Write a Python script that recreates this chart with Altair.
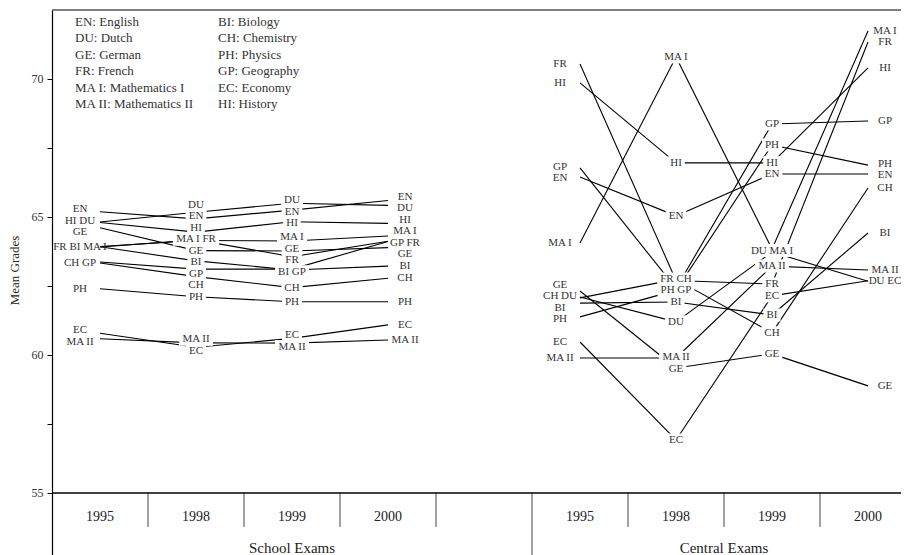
import altair as alt
import pandas as pd

# ---------------- data ----------------
subjects = ["EN", "DU", "GE", "FR", "MA I", "MA II", "BI", "CH", "PH", "GP", "EC", "HI"]
subject_names = ["English", "Dutch", "German", "French", "Mathematics I", "Mathematics II",
                 "Biology", "Chemistry", "Physics", "Geography", "Economy", "History"]
years = ["1995", "1998", "1999", "2000"]
exam_types = ["School Exams", "Central Exams"]

#               EN     DU     GE     FR     MA I   MA II  BI     CH     PH     GP     EC     HI
school_1995 = [65.19, 64.82, 64.61, 63.91, 63.93, 60.59, 63.92, 63.33, 62.40, 63.37, 60.79, 64.80]
school_1998 = [64.93, 65.17, 63.78, 64.17, 64.15, 60.44, 63.41, 62.84, 62.11, 63.11, 60.28, 64.45]
school_1999 = [65.25, 65.50, 63.77, 63.56, 64.13, 60.43, 63.08, 62.44, 61.93, 63.11, 60.60, 64.83]
school_2000 = [65.60, 65.42, 63.89, 64.12, 64.31, 60.54, 63.22, 62.78, 61.93, 64.11, 61.09, 64.77]
central_1995 = [66.45, 62.10, 62.32, 70.54, 64.06, 59.89, 61.88, 62.07, 61.38, 66.78, 60.47, 69.86]
central_1998 = [65.04, 61.20, 59.53, 62.70, 70.80, 59.89, 61.92, 62.74, 62.34, 62.41, 56.92, 66.96]
central_1999 = [66.56, 63.73, 60.04, 62.57, 63.84, 63.22, 61.45, 60.80, 67.61, 68.37, 62.14, 66.96]
central_2000 = [66.56, 62.67, 58.88, 71.34, 71.74, 63.08, 64.42, 66.05, 66.88, 68.48, 62.69, 70.40]

y_ticks = [55, 57.5, 60, 62.5, 65, 67.5, 70]

# ---------------- layout / style ----------------
FONT = "Liberation Serif"
PX = 27.6          # pixels per grade point
COL = 96           # pixels per column
PLOT_W = 849
Y_TOP = 72.5
Y_BOTTOM = 52.39
MERGE = 3.5 / PX
GAP = 11.5 / PX

exam_cols = {"School Exams": [0, 1, 2, 3], "Central Exams": [5, 6, 7, 8]}
exam_data = {"School Exams": [school_1995, school_1998, school_1999, school_2000],
             "Central Exams": [central_1995, central_1998, central_1999, central_2000]}

char_w = {"A": 722, "B": 667, "C": 667, "D": 722, "E": 611, "F": 556, "G": 722, "H": 722,
          "I": 333, "M": 889, "N": 722, "P": 556, "R": 667, "U": 722, " ": 250}


def text_w(s, size=11):
    return sum(char_w.get(c, 600) for c in s) / 1000 * size


def repel(pos, gap):
    pos = list(pos)
    for _ in range(400):
        moved = False
        for i in range(len(pos) - 1):
            d = pos[i] - pos[i + 1]
            if d < gap - 1e-9:
                s = (gap - d) / 2
                pos[i] += s
                pos[i + 1] -= s
                moved = True
        if not moved:
            break
    return pos


seg_rows, label_rows, box_rows = [], [], []
for exam in exam_types:
    cols = exam_cols[exam]
    data = exam_data[exam]
    for j, col in enumerate(cols):
        vals = data[j]
        if j < len(cols) - 1:
            nxt = data[j + 1]
            for k, s in enumerate(subjects):
                seg_rows.append(dict(x=col, x2=cols[j + 1], y=vals[k], y2=nxt[k], subject=s))
        order = sorted(range(len(subjects)), key=lambda k: -vals[k])
        groups = []
        for k in order:
            if groups and vals[groups[-1][-1]] - vals[k] < MERGE:
                groups[-1].append(k)
            else:
                groups.append([k])
        pos = repel([sum(vals[k] for k in g) / len(g) for g in groups], GAP)
        dx = -20 if j == 0 else (17 if j == len(cols) - 1 else 0)
        for g, p in zip(groups, pos):
            text = " ".join(subjects[k] for k in sorted(g, key=lambda k: vals[k]))
            label_rows.append(dict(x=col + dx / COL, y=p, text=text))
            if 0 < j < len(cols) - 1:
                half = text_w(text) / 2 + 3
                box_rows.append(dict(x=col - half / COL, x2=col + half / COL,
                                     y=p - 6.5 / PX, y2=p + 6.5 / PX))

seg_df = pd.DataFrame(seg_rows)
label_df = pd.DataFrame(label_rows)
box_df = pd.DataFrame(box_rows)

legend_rows = []
for i in range(6):
    legend_rows.append(dict(x=-0.5 + 23 / COL, y=Y_TOP - (12 + i * 16.4) / PX,
                            text=f"{subjects[i]}: {subject_names[i]}"))
    legend_rows.append(dict(x=-0.5 + 166 / COL, y=Y_TOP - (12 + i * 16.4) / PX,
                            text=f"{subjects[i + 6]}: {subject_names[i + 6]}"))
legend_df = pd.DataFrame(legend_rows)

year_rows = []
for exam in exam_types:
    for col, yr in zip(exam_cols[exam], years):
        year_rows.append(dict(x=col, y=55 - 24 / PX, text=yr))
year_df = pd.DataFrame(year_rows)

group_df = pd.DataFrame([dict(x=2.0, y=55 - 55 / PX, text=exam_types[0]),
                         dict(x=6.5, y=55 - 55 / PX, text=exam_types[1])])

X_MIN = -0.5
X_MAX = -0.5 + PLOT_W / COL

div_rows = []
for k in range(8):
    b = k + 0.5
    div_rows.append(dict(x=b, y=55, y2=(Y_BOTTOM if k == 4 else 55 - 34 / PX)))
div_df = pd.DataFrame(div_rows)

hline_df = pd.DataFrame([dict(x=X_MIN, x2=X_MAX, y=55, kind="base"),
                         dict(x=X_MIN, x2=X_MAX, y=Y_TOP, kind="top")])

# ---------------- encodings ----------------
x_scale = alt.Scale(domain=[X_MIN, X_MAX], nice=False, zero=False)
y_scale = alt.Scale(domain=[Y_BOTTOM, Y_TOP], nice=False, zero=False)
X = alt.X("x:Q", scale=x_scale, axis=None)
Y = alt.Y("y:Q", scale=y_scale,
          axis=alt.Axis(values=y_ticks,
                        labelExpr="datum.value % 5 === 0 ? format(datum.value, 'd') : ''",
                        title="Mean Grades", grid=False, tickSize=5, labelPadding=4,
                        domainColor="black", tickColor="black", domainWidth=1.2,
                        labelFont=FONT, labelFontSize=12, labelColor="#333",
                        titleFont=FONT, titleFontSize=13, titleFontWeight="normal",
                        titleColor="#222", titleAngle=270, titleAlign="center",
                        titleBaseline="middle", titleX=-38, titleY=260))

segments = alt.Chart(seg_df).mark_rule(color="black", strokeWidth=1.1).encode(
    x=X, x2="x2:Q", y=Y, y2="y2:Q")
boxes = alt.Chart(box_df).mark_rect(color="white").encode(x=X, x2="x2:Q", y=Y, y2="y2:Q")
labels = alt.Chart(label_df).mark_text(font=FONT, fontSize=11, color="#333",
                                       baseline="middle", align="center").encode(
    x=X, y=Y, text="text:N")
legend = alt.Chart(legend_df).mark_text(font=FONT, fontSize=13, color="#333",
                                        baseline="middle", align="left").encode(
    x=X, y=Y, text="text:N")
dividers = alt.Chart(div_df).mark_rule(color="#444", strokeWidth=1).encode(x=X, y=Y, y2="y2:Q")
year_text = alt.Chart(year_df).mark_text(font=FONT, fontSize=14, color="#222",
                                         baseline="middle", align="center").encode(
    x=X, y=Y, text="text:N")
group_text = alt.Chart(group_df).mark_text(font=FONT, fontSize=15, color="#222",
                                           baseline="middle", align="center").encode(
    x=X, y=Y, text="text:N")
hlines = alt.Chart(hline_df).mark_rule(strokeWidth=1.5).encode(
    x=X, x2="x2:Q", y=Y,
    color=alt.Color("kind:N", scale=alt.Scale(domain=["base", "top"], range=["black", "#555"]),
                    legend=None))

chart = alt.layer(segments, boxes, labels, legend, dividers, year_text, group_text, hlines).properties(
    width=PLOT_W, height=555,
    autosize=alt.AutoSizeParams(type="none"),
    padding={"left": 44, "top": 2, "right": 0, "bottom": 0},
).configure_view(stroke=None)

chart.save("out.html", embed_options={"renderer": "svg", "actions": False})
